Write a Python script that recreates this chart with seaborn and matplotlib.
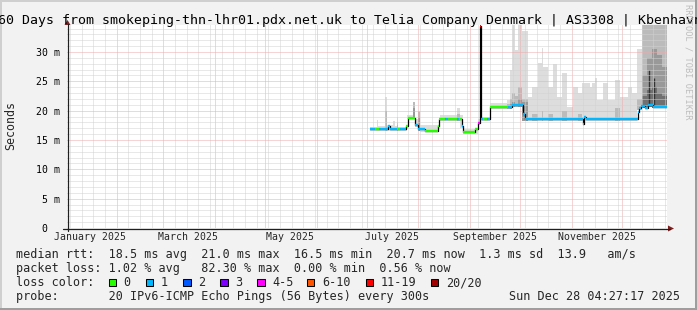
import numpy as np
import pandas as pd
import matplotlib
matplotlib.use("Agg")
import matplotlib.pyplot as plt
import matplotlib.dates as mdates
import matplotlib.transforms as mtrans
from matplotlib.patches import Rectangle, Polygon
from matplotlib.lines import Line2D
from matplotlib.ticker import MultipleLocator, FixedLocator, NullFormatter
import seaborn as sns

# ---------------- data ----------------
title = "360 Days from smokeping-thn-lhr01.pdx.net.uk to Telia Company Denmark | AS3308 | Kbenhavn"
t_start = "2025-01-02 04:27:17"
t_end = "2025-12-28 04:27:17"

# median rtt (ms) as step segments, with packet-loss count (of 20) per segment
med_time = ["2025-07-03 00:00", "2025-07-06 00:00", "2025-07-08 12:00", "2025-07-14 00:00",
            "2025-07-15 00:00", "2025-07-19 00:00", "2025-07-21 00:00", "2025-07-24 12:00",
            "2025-07-25 12:00", "2025-07-30 00:00", "2025-07-31 12:00", "2025-08-05 00:00",
            "2025-08-12 12:00", "2025-08-13 12:00", "2025-08-17 00:00", "2025-08-18 12:00",
            "2025-08-24 00:00", "2025-08-25 12:00", "2025-08-27 00:00", "2025-08-28 00:00",
            "2025-09-04 00:00", "2025-09-06 00:00", "2025-09-07 06:00", "2025-09-07 18:00",
            "2025-09-09 00:00", "2025-09-11 00:00", "2025-09-13 00:00", "2025-09-24 00:00",
            "2025-09-26 00:00", "2025-10-03 00:00", "2025-10-04 00:00", "2025-11-07 12:00",
            "2025-11-08 12:00", "2025-11-09 12:00", "2025-12-10 12:00", "2025-12-11 12:00",
            "2025-12-12 12:00", "2025-12-15 00:00", "2025-12-17 00:00", "2025-12-20 00:00"]
med_ms = [16.8, 16.8, 16.8, 17.4,
          16.8, 16.8, 16.8, 17.4,
          18.8, 17.6, 16.8, 16.6,
          17.4, 18.6, 18.6, 18.6,
          18.6, 18.5, 17.4, 16.4,
          16.9, 17.9, 34.5, 18.6,
          18.6, 18.6, 20.6, 20.6,
          20.9, 19.5, 18.5, 17.7,
          18.9, 18.5, 19.8, 20.4,
          20.8, 20.5, 20.9, 20.7]
med_loss = [1, 0, 1, 1,
            1, 0, 1, 0,
            0, 1, 1, 0,
            0, 0, 1, 0,
            1, 0, 1, 0,
            0, 4, 12, 1,
            0, 1, 0, 1,
            1, 1, 1, 1,
            1, 1, 1, 1,
            1, 1, 1, 1]

# smoke (ping spread) as step segments: upper bounds of the shaded layers (ms); 0 = no layer
smoke_time = ["2025-07-03", "2025-07-07", "2025-07-08", "2025-07-12", "2025-07-13", "2025-07-17",
              "2025-07-18", "2025-07-19", "2025-07-20", "2025-07-25", "2025-07-29", "2025-07-30",
              "2025-08-01", "2025-08-02", "2025-08-13", "2025-08-14", "2025-08-24", "2025-08-26",
              "2025-08-28", "2025-09-06", "2025-09-07", "2025-09-08", "2025-09-13", "2025-09-23",
              "2025-09-25", "2025-09-26", "2025-09-28", "2025-09-30", "2025-10-02", "2025-10-06",
              "2025-10-08", "2025-10-12", "2025-10-14", "2025-10-15", "2025-10-18", "2025-10-21",
              "2025-10-23", "2025-10-26", "2025-10-29", "2025-11-02", "2025-11-05", "2025-11-07",
              "2025-11-12", "2025-11-13", "2025-11-15", "2025-11-16", "2025-11-20", "2025-11-23",
              "2025-11-27", "2025-11-30", "2025-12-05", "2025-12-07", "2025-12-10", "2025-12-13",
              "2025-12-16", "2025-12-19", "2025-12-22", "2025-12-25"]
smoke_max = [17.3, 18.4, 17.4, 22.4, 17.6, 18.2,
             17.4, 19.0, 17.3, 19.2, 21.5, 18.5,
             20.0, 17.5, 18.0, 19.2, 20.4, 19.2,
             16.9, 18.5, 19.0, 19.0, 21.3, 21.8,
             26.9, 34.6, 30.3, 34.6, 33.5, 22.4,
             24.0, 28.1, 30.7, 27.5, 24.0, 28.0,
             22.4, 26.4, 20.7, 24.0, 23.0, 24.7,
             24.0, 24.7, 25.6, 21.8, 24.7, 21.8,
             25.2, 22.4, 24.0, 23.0, 30.5, 34.6,
             34.6, 34.6, 34.6, 34.6]
smoke_q3 = [0, 0, 0, 20.0, 0, 0,
            0, 18.0, 0, 0, 21.5, 0,
            19.8, 0, 0, 0, 19.5, 0,
            0, 0, 0, 0, 0, 21.2,
            22.0, 23.0, 22.5, 24.0, 22.0, 0,
            19.5, 0, 20.0, 0, 19.5, 0,
            0, 20.0, 0, 0, 19.5, 0,
            0, 0, 0, 0, 0, 0,
            20.5, 0, 0, 0, 22.0, 34.6,
            34.6, 34.6, 34.6, 34.6]
smoke_q2 = [0, 0, 0, 0, 0, 0,
            0, 17.6, 0, 0, 20.5, 0,
            19.0, 0, 0, 0, 0, 0,
            0, 0, 0, 0, 0, 0,
            21.2, 21.5, 0, 22.0, 21.5, 0,
            0, 0, 0, 0, 0, 0,
            0, 0, 0, 0, 0, 0,
            0, 0, 0, 0, 0, 0,
            0, 0, 0, 0, 0, 26.0,
            29.0, 30.5, 29.5, 27.5]
smoke_q1 = [0, 0, 0, 0, 0, 0,
            0, 0, 0, 0, 0, 0,
            0, 0, 0, 0, 0, 0,
            0, 0, 0, 0, 0, 0,
            0, 0, 0, 0, 0, 0,
            0, 0, 0, 0, 0, 0,
            0, 0, 0, 0, 0, 0,
            0, 0, 0, 0, 0, 0,
            0, 0, 0, 0, 0, 22.5,
            23.5, 24.0, 23.0, 22.5]
spike_time = ["2025-12-17 06:00", "2025-12-20 06:00"]
spike_ms = [27.0, 25.5]

label_months = ["2025-01-01", "2025-03-01", "2025-05-01", "2025-07-01", "2025-09-01", "2025-11-01"]
month_labels = ["January 2025", "March 2025", "May 2025", "July 2025", "September 2025", "November 2025"]
ytick_vals = [0, 5, 10, 15, 20, 25, 30]
ytick_labels = ["0  ", "5 m", "10 m", "15 m", "20 m", "25 m", "30 m"]

loss_upper = [0, 1, 2, 3, 5, 10, 19, 20]
loss_colors = ["#26ff00", "#00b8ff", "#0059ff", "#7e00ff", "#ff00ff", "#ff5500", "#ff0000", "#a10000"]
loss_names = ["0", "1", "2", "3", "4-5", "6-10", "11-19", "20/20"]

row_rtt = "median rtt:  18.5 ms avg  21.0 ms max  16.5 ms min  20.7 ms now  1.3 ms sd  13.9   am/s"
row_loss = "packet loss: 1.02 % avg   82.30 % max  0.00 % min  0.56 % now"
row_color = "loss color:"
row_probe = "probe:       20 IPv6-ICMP Echo Pings (56 Bytes) every 300s"
stamp = "Sun Dec 28 04:27:17 2025"
watermark = "RRDTOOL / TOBI OETIKER"

# ---------------- style ----------------
W, H = 697, 310
sns.set_theme(style="white")
plt.rcParams["font.family"] = ["DejaVu Sans Mono"]
BACK = "#f2f2f2"
GRID = "#d2d2d2"
MGRID = "#f0aaaa"
ARROW = "#801f1f"
AXIS = "#1f1f1f"

def fx(x):
    return x / W

def fy(y):
    return 1 - y / H

fig = plt.figure(figsize=(W / 100, H / 100), dpi=100, facecolor=BACK)
ax = fig.add_axes([fx(67), fy(228), 600 / W, 203 / H])
ax.set_facecolor("white")

start = pd.Timestamp(t_start)
end = pd.Timestamp(t_end)

# smoke layers
st = pd.to_datetime(smoke_time)
edges = st.append(pd.DatetimeIndex([end]))
mt = pd.to_datetime(med_time)
mids = st + (edges[1:] - st) / 2
idx = np.searchsorted(mt.values, mids.values, side="right") - 1
base = np.array(med_ms)[np.clip(idx, 0, None)] - 0.3

def layer(vals, color):
    top = np.maximum(np.array(vals, float), base)
    y1 = np.append(base, base[-1])
    y2 = np.append(top, top[-1])
    ax.fill_between(edges, y1, y2, step="post", color=color, lw=0, zorder=1)

layer(smoke_max, "#dddddd")
layer(smoke_q3, "#bbbbbb")
layer(smoke_q2, "#999999")
layer(smoke_q1, "#707070")

# spikes
sp = pd.to_datetime(spike_time)
sidx = np.searchsorted(mt.values, sp.values, side="right") - 1
ax.vlines(sp, np.array(med_ms)[sidx], spike_ms, color="#333333", lw=1.0, zorder=2)

# median line: black steps + loss-coloured segments
med_df = pd.DataFrame({"t": list(mt) + [end], "ms": med_ms + [med_ms[-1]]})
sns.lineplot(data=med_df, x="t", y="ms", drawstyle="steps-post", color="black",
             lw=0.9, estimator=None, sort=False, ax=ax, zorder=3)
nxt = list(mt[1:]) + [end]
def loss_col(n):
    for ub, c in zip(loss_upper, loss_colors):
        if n <= ub:
            return c
    return loss_colors[-1]
ax.hlines(med_ms, mt, nxt, colors=[loss_col(n) for n in med_loss], lw=1.7, zorder=4)

# axes
ax.set_xlim(start, end)
ax.set_ylim(0, 203 / (228 - 52) * 30)
ax.xaxis.set_major_locator(mdates.MonthLocator())
ax.xaxis.set_minor_locator(mdates.WeekdayLocator(byweekday=mdates.SA))
ax.xaxis.set_major_formatter(NullFormatter())
ax.yaxis.set_major_locator(FixedLocator(ytick_vals))
ax.yaxis.set_minor_locator(MultipleLocator(1))
ax.set_yticklabels(ytick_labels)
ax.set_xlabel("")
ax.set_ylabel("")
ax.tick_params(axis="x", which="both", length=0)
ax.tick_params(axis="y", which="major", length=3, width=0.7, color=MGRID, pad=2.2,
               labelsize=7.1, labelcolor="black")
ax.tick_params(axis="y", which="minor", length=0)
for s in ax.spines.values():
    s.set_visible(False)
ax.set_axisbelow(False)
ax.grid(which="major", color=MGRID, ls=(0, (1, 1)), lw=0.72)
ax.grid(which="minor", color=GRID, ls=(0, (1, 1)), lw=0.72)

trans = mtrans.blended_transform_factory(ax.transData, fig.transFigure)
for m, lab in zip(label_months, month_labels):
    ax.text(pd.Timestamp(m) + pd.Timedelta(days=15), fy(240.5), lab, transform=trans,
            ha="center", va="baseline", fontsize=7.1, clip_on=False)

# axis lines and arrows
fig.add_artist(Line2D([fx(67.5), fx(67.5)], [fy(231), fy(24)], color=AXIS, lw=0.9))
fig.add_artist(Line2D([fx(63), fx(670)], [fy(228.5), fy(228.5)], color=AXIS, lw=0.9))
fig.add_artist(Polygon([(fx(64.5), fy(25)), (fx(70.5), fy(25)), (fx(67.5), fy(20))],
                       closed=True, color=ARROW, lw=0, transform=fig.transFigure))
fig.add_artist(Polygon([(fx(668), fy(225.5)), (fx(668), fy(231.5)), (fx(674), fy(228.5))],
                       closed=True, color=ARROW, lw=0, transform=fig.transFigure))

# texts
fig.text(fx(346.5), fy(24), title, ha="center", va="baseline", fontsize=9.5, color="black")
fig.text(fx(10.5), fy(125), "Seconds", rotation=90, ha="center", va="center", fontsize=8.4)
fig.text(fx(688), fy(62), watermark, rotation=-90, ha="center", va="center", fontsize=6.2,
         color="#bdbdbd")

LF = 8.47
yb = [257.8, 272.0, 286.2, 300.3]
fig.text(fx(16), fy(yb[0]), row_rtt, ha="left", va="baseline", fontsize=LF)
fig.text(fx(16), fy(yb[1]), row_loss, ha="left", va="baseline", fontsize=LF)
fig.text(fx(16), fy(yb[2]), row_color, ha="left", va="baseline", fontsize=LF)
fig.text(fx(16), fy(yb[3]), row_probe, ha="left", va="baseline", fontsize=LF)
fig.text(fx(680), fy(yb[3]), stamp, ha="right", va="baseline", fontsize=LF)

box_x = [108.5, 145.8, 183.0, 220.2, 257.0, 306.8, 365.8, 430.8]
for bx, c, name in zip(box_x, loss_colors, loss_names):
    fig.add_artist(Rectangle((fx(bx), fy(286.0)), 7.5 / W, 7.5 / H, facecolor=c,
                             edgecolor="black", lw=0.75, transform=fig.transFigure))
    fig.text(fx(bx + 15), fy(yb[2]), name, ha="left", va="baseline", fontsize=LF)

# frame shading
fig.add_artist(Rectangle((0, fy(2)), 1, 2 / H, facecolor="#cfcfcf", lw=0, transform=fig.transFigure))
fig.add_artist(Rectangle((0, 0), 2 / W, 1, facecolor="#cfcfcf", lw=0, transform=fig.transFigure))
fig.add_artist(Rectangle((0, 0), 1, 2.5 / H, facecolor="#9e9e9e", lw=0, transform=fig.transFigure))
fig.add_artist(Rectangle((1 - 2.5 / W, 0), 2.5 / W, 1, facecolor="#9e9e9e", lw=0,
                         transform=fig.transFigure))

fig.savefig("out.png", dpi=100, facecolor=BACK)
